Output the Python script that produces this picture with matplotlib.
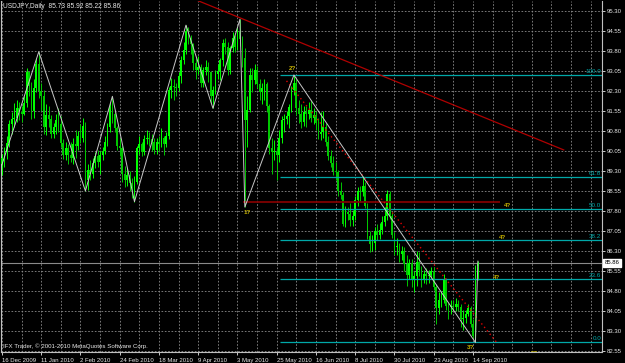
import matplotlib
matplotlib.use('Agg')
import matplotlib.pyplot as plt

# ---------------- data ----------------
date_labels = ['16 Dec 2009', '11 Jan 2010', '2 Feb 2010', '24 Feb 2010', '18 Mar 2010',
               '9 Apr 2010', '3 May 2010', '25 May 2010', '16 Jun 2010', '8 Jul 2010',
               '30 Jul 2010', '23 Aug 2010', '14 Sep 2010']
date_label_bars = [0, 16, 32, 48, 64, 80, 96, 112, 128, 144, 160, 176, 192]

opens = [89.55, 89.80, 90.00, 90.35, 91.05, 91.25, 91.30, 91.65, 91.50, 91.45,
         91.85, 93.00, 92.50, 91.55, 92.40, 93.30, 92.30, 92.10, 90.95, 91.40,
         91.25, 90.70, 90.95, 91.20, 91.05, 90.35, 89.90, 90.15, 89.90, 89.80,
         90.30, 90.25, 90.60, 90.55, 91.00, 88.95, 89.35, 89.20, 89.60, 89.85,
         89.65, 89.90, 90.05, 90.40, 90.95, 91.70, 91.45, 90.90, 90.25, 90.15,
         89.20, 88.95, 89.15, 88.85, 88.65, 88.90, 90.15, 90.30, 90.00, 90.50,
         90.55, 90.50, 90.40, 90.10, 90.40, 90.30, 90.55, 90.30, 90.60, 92.35,
         92.50, 92.45, 92.40, 92.85, 93.45, 93.85, 94.55, 94.30, 94.05, 93.35,
         93.10, 93.20, 92.60, 93.10, 93.20, 93.00, 92.10, 92.35, 92.95, 93.05,
         93.45, 94.10, 93.95, 93.10, 93.90, 94.30, 93.95, 94.55, 94.25, 93.55,
         91.20, 91.60, 92.90, 92.70, 93.10, 92.55, 92.25, 92.40, 92.55, 91.75,
         90.15, 90.00, 90.05, 89.90, 90.55, 91.20, 91.25, 91.35, 91.70, 92.35,
         92.60, 91.65, 91.45, 91.15, 91.50, 91.45, 91.60, 91.30, 91.40, 91.10,
         90.70, 90.75, 90.95, 90.40, 89.85, 89.60, 89.30, 89.25, 88.55, 88.40,
         87.30, 87.75, 87.70, 87.45, 87.60, 88.20, 88.55, 88.50, 88.75, 88.00,
         86.85, 86.55, 86.60, 87.05, 86.90, 87.10, 87.40, 87.60, 88.45, 87.60,
         86.90, 86.45, 86.45, 86.20, 86.30, 85.80, 85.40, 85.85, 85.20, 85.35,
         85.90, 85.60, 85.25, 85.45, 85.35, 85.40, 85.55, 84.95, 84.15, 84.45,
         84.45, 85.25, 84.25, 84.20, 84.25, 84.20, 84.30, 84.20, 83.75, 83.80,
         83.95, 84.15, 83.55, 83.05, 85.73]
highs = [89.95, 90.20, 90.60, 91.20, 91.50, 91.85, 91.95, 91.90, 91.75, 92.10,
         93.15, 93.05, 92.65, 92.75, 93.55, 93.77, 92.60, 92.35, 91.80, 91.75,
         91.40, 91.10, 91.45, 91.65, 91.35, 90.50, 90.40, 90.30, 90.40, 90.55,
         90.85, 90.80, 91.05, 91.30, 91.15, 89.55, 89.70, 89.80, 90.00, 90.10,
         90.05, 90.20, 90.60, 91.10, 91.85, 92.10, 91.55, 91.00, 90.55, 90.25,
         89.50, 89.40, 89.30, 89.05, 89.10, 90.25, 90.60, 90.40, 90.65, 90.85,
         90.75, 90.70, 90.55, 90.55, 90.60, 90.90, 90.60, 90.75, 92.45, 92.80,
         92.75, 92.60, 93.00, 93.60, 94.15, 94.77, 94.70, 94.40, 94.10, 93.55,
         93.60, 93.30, 93.20, 93.45, 93.40, 93.05, 92.50, 93.10, 93.30, 93.55,
         94.25, 94.30, 94.15, 94.00, 94.50, 94.40, 94.70, 94.99, 94.35, 93.90,
         92.10, 93.15, 93.15, 93.30, 93.25, 92.75, 92.60, 92.75, 92.65, 91.80,
         90.55, 90.45, 90.20, 90.85, 91.35, 91.45, 91.55, 91.80, 92.50, 92.90,
         92.75, 91.95, 91.80, 91.75, 91.75, 91.90, 91.95, 91.65, 91.55, 91.30,
         91.50, 91.55, 91.10, 90.60, 90.10, 89.85, 89.65, 89.35, 88.90, 88.50,
         88.00, 87.95, 88.10, 87.85, 88.35, 88.70, 88.75, 89.10, 88.90, 88.10,
         87.05, 86.90, 87.20, 87.30, 87.35, 87.60, 87.95, 88.60, 88.55, 87.75,
         87.00, 86.80, 86.60, 86.50, 86.45, 86.15, 86.00, 86.00, 85.55, 86.30,
         86.25, 85.75, 85.60, 85.65, 85.60, 85.70, 85.70, 85.05, 84.75, 84.80,
         85.45, 85.30, 84.35, 84.45, 84.45, 84.55, 84.45, 84.30, 84.10, 84.10,
         84.30, 84.25, 83.75, 85.77, 85.92]
lows = [89.15, 89.45, 89.75, 90.20, 90.70, 90.95, 91.15, 91.20, 91.15, 91.40,
        91.70, 92.10, 91.25, 91.30, 92.25, 92.05, 91.55, 90.70, 90.65, 90.95,
        90.55, 90.55, 90.70, 90.75, 90.20, 89.75, 89.70, 89.55, 89.65, 89.55,
        89.80, 90.10, 90.35, 90.40, 88.55, 88.60, 88.95, 89.05, 89.40, 89.45,
        89.20, 89.70, 89.95, 90.25, 90.75, 91.10, 90.75, 90.10, 89.85, 88.90,
        88.70, 88.75, 88.55, 88.30, 88.15, 88.80, 89.95, 89.85, 89.90, 90.30,
        90.25, 90.05, 89.95, 89.95, 90.05, 90.20, 89.90, 90.20, 90.50, 92.05,
        91.95, 92.10, 92.30, 92.60, 93.30, 93.70, 94.05, 93.70, 93.10, 92.75,
        92.95, 92.45, 92.45, 92.90, 92.65, 91.85, 91.65, 92.20, 92.75, 92.70,
        93.25, 93.70, 92.90, 92.95, 93.75, 93.75, 93.85, 94.00, 93.20, 87.95,
        90.20, 91.50, 92.25, 92.55, 92.40, 91.95, 91.80, 91.95, 91.50, 89.95,
        89.20, 89.70, 88.95, 89.65, 90.35, 90.75, 91.05, 90.90, 91.50, 92.15,
        91.40, 91.10, 90.90, 91.00, 90.95, 91.25, 91.15, 91.05, 90.85, 90.50,
        90.45, 90.55, 90.25, 89.70, 89.45, 89.15, 88.95, 88.35, 88.25, 87.25,
        87.20, 87.45, 87.25, 87.25, 87.45, 88.00, 88.15, 88.35, 87.90, 86.75,
        86.25, 86.30, 86.35, 86.70, 86.75, 86.95, 87.25, 87.45, 87.50, 86.80,
        86.15, 86.15, 85.90, 85.95, 85.55, 85.00, 85.25, 84.95, 84.75, 85.00,
        85.35, 84.95, 85.10, 85.05, 85.10, 85.30, 84.85, 83.58, 83.95, 84.20,
        84.35, 84.10, 83.75, 83.95, 84.05, 84.05, 84.05, 83.45, 83.35, 83.60,
        83.85, 83.45, 83.05, 82.87, 85.22]
closes = [89.80, 90.00, 90.35, 91.05, 91.25, 91.30, 91.65, 91.50, 91.45, 91.85,
          93.00, 92.50, 91.55, 92.40, 93.30, 92.30, 92.10, 90.95, 91.40, 91.25,
          90.70, 90.95, 91.20, 91.05, 90.35, 89.90, 90.15, 89.90, 89.80, 90.30,
          90.25, 90.60, 90.55, 91.00, 88.95, 89.35, 89.20, 89.60, 89.85, 89.65,
          89.90, 90.05, 90.40, 90.95, 91.70, 91.45, 90.90, 90.25, 90.15, 89.20,
          88.95, 89.15, 88.85, 88.65, 88.90, 90.15, 90.30, 90.00, 90.50, 90.55,
          90.50, 90.40, 90.10, 90.40, 90.30, 90.55, 90.30, 90.60, 92.35, 92.50,
          92.45, 92.40, 92.85, 93.45, 93.85, 94.55, 94.30, 94.05, 93.35, 93.10,
          93.20, 92.60, 93.10, 93.20, 93.00, 92.10, 92.35, 92.95, 93.05, 93.45,
          94.10, 93.95, 93.10, 93.90, 94.30, 93.95, 94.55, 94.25, 93.55, 91.20,
          91.60, 92.90, 92.70, 93.10, 92.55, 92.25, 92.40, 92.55, 91.75, 90.15,
          90.00, 90.05, 89.90, 90.55, 91.20, 91.25, 91.35, 91.70, 92.35, 92.60,
          91.65, 91.45, 91.15, 91.50, 91.45, 91.60, 91.30, 91.40, 91.10, 90.70,
          90.75, 90.95, 90.40, 89.85, 89.60, 89.30, 89.25, 88.55, 88.40, 87.30,
          87.75, 87.70, 87.45, 87.60, 88.20, 88.55, 88.50, 88.75, 88.00, 86.85,
          86.55, 86.60, 87.05, 86.90, 87.10, 87.40, 87.60, 88.45, 87.60, 86.90,
          86.45, 86.45, 86.20, 86.30, 85.80, 85.40, 85.85, 85.20, 85.35, 85.90,
          85.60, 85.25, 85.45, 85.35, 85.40, 85.55, 84.95, 84.15, 84.45, 84.45,
          85.25, 84.25, 84.20, 84.25, 84.20, 84.30, 84.20, 83.75, 83.80, 83.95,
          84.15, 83.55, 83.10, 85.70, 85.86]

price_ticks = [95.30, 94.55, 93.80, 93.05, 92.30, 91.55, 90.80, 90.05, 89.30,
               88.55, 87.80, 87.05, 86.30, 85.55, 84.80, 84.05, 83.30, 82.55]

# ZigZag swing points (bar index, price)
zz_bars = [-3, 15, 34, 45, 54, 75, 86, 97, 99, 119, 193, 194]
zz_prices = [88.70, 93.77, 88.55, 92.10, 88.15, 94.77, 91.65, 94.99, 87.95, 92.90, 82.87, 85.92]

# Fibonacci retracement
fib_levels = [0.0, 23.6, 38.2, 50.0, 61.8, 100.0]
fib_low, fib_high = 82.87, 92.90
fib_start_bar = 113.5

# other drawn objects
hline_price, hline_bars = 88.15, (98.2, 203.0)
trend_bars, trend_prices = (75.0, 229.0), (95.87, 90.09)
dot_bars, dot_prices = (116.0, 201.5), (92.68, 82.89)

wave_texts = ['1?', '2?', '3?', '4?', '4?', '4?', '5?']
wave_bars = [99.9, 118.6, 191.2, 205.9, 204.2, 201.8, 217.0]
wave_prices = [87.76, 93.13, 82.70, 88.02, 86.79, 85.29, 82.47]

title_text = 'USDJPY,Daily  85.73 85.92 85.22 85.86'
copyright_text = 'IFX Trader, \u00a9 2001-2010 MetaQuotes Software Corp.'

# ---------------- figure ----------------
W, H = 625, 363
fig = plt.figure(figsize=(W / 100, H / 100), dpi=100, facecolor='black')
ax_l, ax_r, ax_t, ax_b = 1.5, 602.0, 1.0, 352.0
ax = fig.add_axes([ax_l / W, 1 - ax_b / H, (ax_r - ax_l) / W, (ax_b - ax_t) / H])
ax.set_facecolor('black')

spacing = 2.453
xmin = -(2.0 - ax_l) / spacing
xmax = xmin + (ax_r - ax_l) / spacing
ppu = 26.667
ylo = 83.30 - (ax_b - 331.0) / ppu
yhi = 83.30 + (331.0 - ax_t) / ppu
ax.set_xlim(xmin, xmax)
ax.set_ylim(ylo, yhi)

FONT = 'Liberation Sans'
TXT = '#e8e8e8'
grid_color = '#8c8c8c'

# grid
for p in price_ticks:
    ax.axhline(p, color=grid_color, lw=0.6, ls=(0, (2, 2)), zorder=0)
for b in range(0, 248, 8):
    ax.axvline(b, color=grid_color, lw=0.6, ls=(0, (2, 2)), zorder=0)

# candles
n = len(closes)
xs = list(range(n))
bull_c = '#00ff00'
bear_c = '#00c800'
cols = [bull_c if closes[i] >= opens[i] else bear_c for i in range(n)]
ax.vlines(xs, lows, highs, colors=cols, lw=0.7, zorder=3)
bottoms = [min(opens[i], closes[i]) for i in range(n)]
heights = [max(abs(closes[i] - opens[i]), 0.03) for i in range(n)]
ax.bar(xs, heights, bottom=bottoms, width=0.72, color=cols, linewidth=0, zorder=3)

# current price line
ax.axhline(closes[-1], color='#8a8a8a', lw=0.8, zorder=2)

# fibonacci
fib_col = '#00a8a8'
for lv in fib_levels:
    p = fib_low + (fib_high - fib_low) * lv / 100.0
    ax.hlines(p, fib_start_bar, xmax, color=fib_col, lw=0.9, zorder=4)
    ax.text(xmax - 0.3, p + 0.04, '%.1f' % lv, color=fib_col, fontsize=4.5,
            family=FONT, ha='right', va='bottom', zorder=6)

# dark red horizontal line
ax.hlines(hline_price, hline_bars[0], hline_bars[1], color='#800000', lw=1.3, zorder=4)
# red trendline
ax.plot(trend_bars, trend_prices, color='#b00000', lw=0.9, zorder=4)
# red dotted line
ax.plot(dot_bars, dot_prices, color='#e00000', lw=1.0, ls=(0, (1, 2.2)), zorder=4)

# zigzag
ax.plot(zz_bars, zz_prices, color='#c8c8c8', lw=0.7, zorder=5)

# wave labels
for t, b, p in zip(wave_texts, wave_bars, wave_prices):
    ax.text(b, p, t, color='#c8b400', fontsize=4.5, family=FONT, ha='center',
            va='center', zorder=6, fontweight='bold', clip_on=True)

# axes styling
for s in ['left', 'right', 'bottom']:
    ax.spines[s].set_color('#c0c0c0')
    ax.spines[s].set_linewidth(0.8)
ax.spines['top'].set_visible(False)

ax.yaxis.tick_right()
ax.set_yticks(price_ticks)
ax.set_yticklabels(['%.2f' % p for p in price_ticks])
ax.tick_params(axis='y', colors=TXT, labelsize=4.3, length=2, width=0.6, pad=1.5)
ax.set_xticks(date_label_bars)
ax.set_xticklabels(date_labels, ha='left')
ax.tick_params(axis='x', colors=TXT, labelsize=4.3, length=2.5, width=0.6, pad=1.5)
for lab in ax.get_xticklabels() + ax.get_yticklabels():
    lab.set_family(FONT)

# last price box
ax.text(1.004, closes[-1], '%.2f' % closes[-1], transform=ax.get_yaxis_transform(),
        color='black', fontsize=4.3, family=FONT, ha='left', va='center', zorder=10,
        bbox=dict(boxstyle='square,pad=0.25', facecolor='white', edgecolor='white'),
        clip_on=False)

# title and copyright
fig.text(3 / W, 1 - 6 / H, title_text, color=TXT, fontsize=4.8, family=FONT,
         ha='left', va='center')
fig.text(3 / W, 1 - 346.5 / H, copyright_text, color=TXT, fontsize=4.4, family=FONT,
         ha='left', va='center')

fig.savefig('out.png', dpi=100, facecolor='black')
